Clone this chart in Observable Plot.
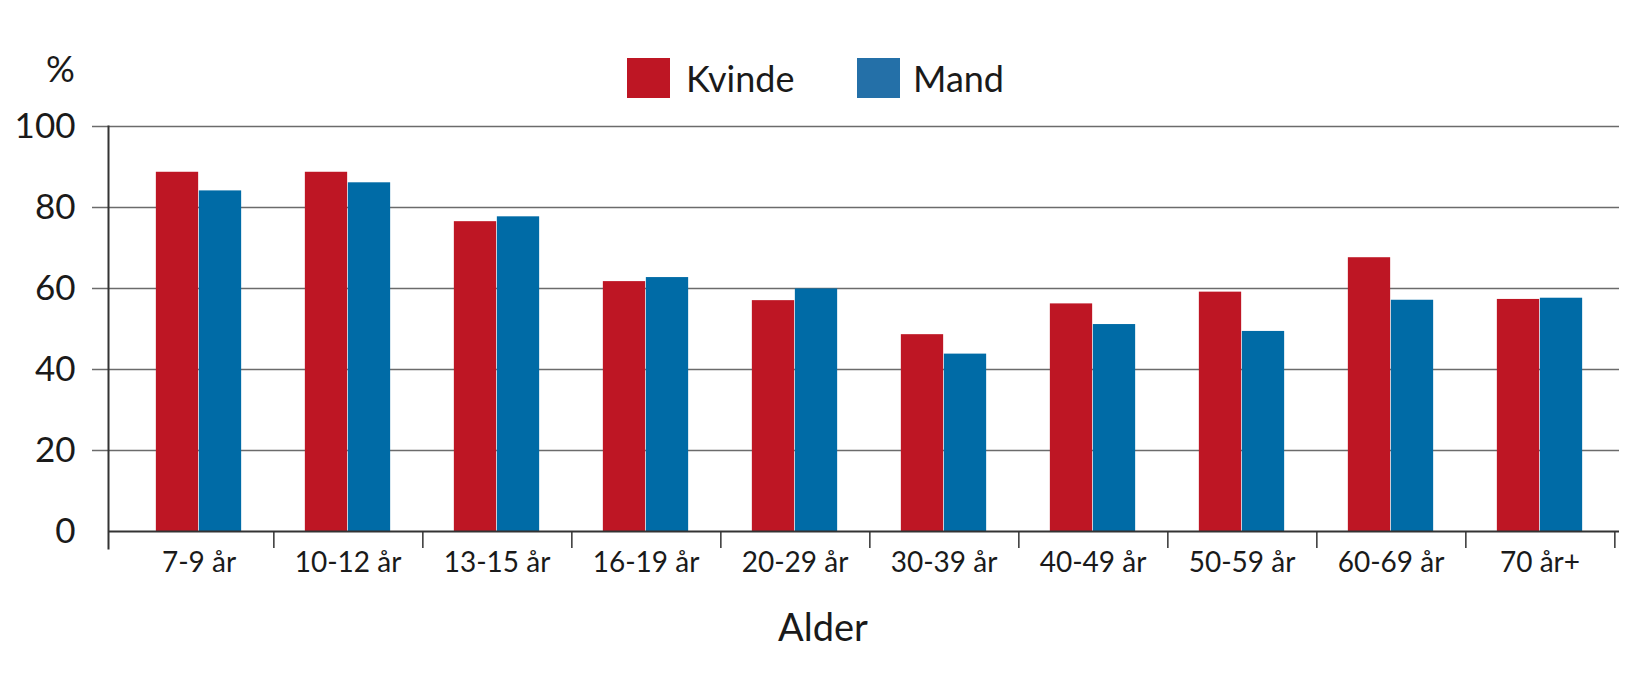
<!DOCTYPE html>
<html>
<head>
<meta charset="utf-8">
<script src="https://cdn.jsdelivr.net/npm/d3@7"></script>
<script src="https://cdn.jsdelivr.net/npm/@observablehq/plot@0.6"></script>
<style>
  html, body { margin: 0; padding: 0; background: #fff; }
  body { width: 1635px; font-family: Lato, "Open Sans", sans-serif; color: #1a1a1a; }
  #legendRow { position: relative; height: 100px; }
  .sw { position: absolute; top: 58px; width: 43px; height: 40px; }
  .lt { position: absolute; top: 58px; height: 40px; display: flex; align-items: center; font-size: 36px; color: #1a1a1a; }
  #pct { position: absolute; left: 46px; top: 48px; height: 40px; display: flex; align-items: center; font-size: 36px; }
  #xlabel { margin-top: 13px; text-align: center; padding-left: 11px; font-size: 38px; color: #1a1a1a; }
  svg { display: block; }
</style>
</head>
<body>
<div id="legendRow"></div>
<div id="chart"></div>
<div id="xlabel"></div>
<script>
const ages = ["7-9 år", "10-12 år", "13-15 år", "16-19 år", "20-29 år", "30-39 år", "40-49 år", "50-59 år", "60-69 år", "70 år+"];
const kvinde = [88.7, 88.7, 76.5, 61.7, 57.0, 48.6, 56.2, 59.1, 67.6, 57.3];
const mand = [84.1, 86.1, 77.7, 62.7, 59.9, 43.8, 51.1, 49.4, 57.1, 57.6];
const yTicks = [0, 20, 40, 60, 80, 100];
const seriesNames = ["Kvinde", "Mand"];
const axisTitle = "Alder";
const unitLabel = "%";

const colKvinde = "#be1624";
const colMand = "#006ba6";
const colMandLegend = "#2470a8";

const rows = ages.map((a, i) => ({age: a, kvinde: kvinde[i], mand: mand[i]}));

const W = 1635, H = 490;
const mL = 108, mR = 16, mT = 26, mB = 59;
const xInL = 12, xInR = 2;
const bw = (W - mL - mR - xInL - xInR) / ages.length;
const barW = 43;
const pad = (bw - 2 * barW) / 2;

// legend
const legendRow = document.getElementById("legendRow");
const pct = document.createElement("div");
pct.id = "pct"; pct.textContent = unitLabel; legendRow.appendChild(pct);
const legendItems = [
  {name: seriesNames[0], color: colKvinde, sx: 627, tx: 686},
  {name: seriesNames[1], color: colMandLegend, sx: 857, tx: 913}
];
for (const it of legendItems) {
  const s = document.createElement("div");
  s.className = "sw"; s.style.left = it.sx + "px"; s.style.background = it.color;
  legendRow.appendChild(s);
  const t = document.createElement("div");
  t.className = "lt"; t.style.left = it.tx + "px"; t.textContent = it.name;
  legendRow.appendChild(t);
}
document.getElementById("xlabel").textContent = axisTitle;

const chart = Plot.plot({
  width: W,
  height: H,
  marginLeft: mL,
  marginRight: mR,
  marginTop: mT,
  marginBottom: mB,
  style: {fontFamily: "Lato, 'Open Sans', sans-serif", color: "#1a1a1a", background: "#fff"},
  x: {type: "band", domain: ages, padding: 0, insetLeft: xInL, insetRight: xInR, axis: null},
  y: {domain: [0, 100], axis: null},
  marks: [
    Plot.ruleY(yTicks.filter(d => d > 0), {stroke: "#6b6b6b", strokeWidth: 1.6, insetLeft: -16}),
    Plot.barY(rows, {x: "age", y: "kvinde", fill: colKvinde, insetLeft: pad, insetRight: bw - pad - barW}),
    Plot.barY(rows, {x: "age", y: "mand", fill: colMand, insetLeft: pad + barW, insetRight: pad}),
    Plot.ruleY([0], {stroke: "#333", strokeWidth: 2}),
    Plot.frame({anchor: "left", stroke: "#333", strokeWidth: 2, insetBottom: -17}),
    Plot.ruleX(ages, {x: d => d, y1: 0, y2: 0, dx: bw / 2, insetBottom: -17, stroke: "#333", strokeWidth: 1.5}),
    Plot.axisY({ticks: yTicks, tickSize: 0, tickPadding: 33, fontSize: 35, tickFormat: d => String(d)}),
    Plot.axisX({tickSize: 0, tickPadding: 21, fontSize: 28, label: null})
  ]
});
document.getElementById("chart").appendChild(chart);
</script>
</body>
</html>
